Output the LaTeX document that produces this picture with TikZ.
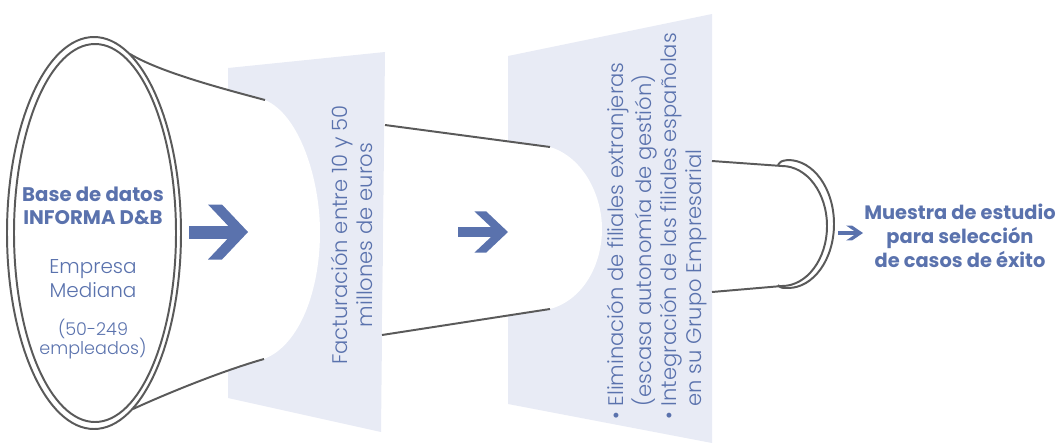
\documentclass[tikz,border=0pt]{standalone}
\usepackage{fontspec}
\setmainfont{Poppins}
\newfontfamily\lightfont{Poppins Light}
\usetikzlibrary{positioning}
\definecolor{azul}{RGB}{90,114,173}
\definecolor{panel}{RGB}{232,235,245}
\definecolor{borde}{RGB}{90,90,90}
\tikzset{
  rim/.style={draw=borde, line width=1.4pt},
  panelfill/.style={fill=panel, draw=none},
  titulo/.style={text=azul, font=\bfseries\fontsize{14}{16.5}\selectfont, align=center, inner sep=0pt},
  ligero/.style={text=azul, font=\lightfont\fontsize{14.2}{17}\selectfont, align=center, inner sep=0pt},
  girado/.style={ligero, font=\lightfont\fontsize{15}{17.8}\selectfont, rotate=90},
  pics/flecha/.style={code={
    \fill[azul] (-59,-6.5) rectangle (-12,6.5);
    \fill[azul] (-40,-27.5) -- (-26,-27.5) -- (0,0) -- (-26,27.5) -- (-40,27.5) -- (-14,0) -- cycle;
  }}
}

\begin{document}
\begin{tikzpicture}[x=0.025cm, y=-0.025cm]
    \useasboundingbox (0,0) rectangle (1060,443);

    \fill[panelfill] (228,68) -- (385,52) -- (381,432) -- (228,398) -- cycle;
    \fill[panelfill] (508,56) -- (712,14) -- (712,443) -- (508,404) -- cycle;

    \fill[white] (130,54) .. controls (160,72) and (220,88) .. (265,100)
      .. controls (300,115) and (320,180) .. (320,232)
      .. controls (320,290) and (300,345) .. (264,359)
      .. controls (225,370) and (170,392) .. (133,409) -- cycle;
    \fill[white] (385,125) -- (550,147) .. controls (583,157) and (602,195) .. (602,229)
      .. controls (602,265) and (583,300) .. (550,309) -- (382,335) -- cycle;

    \draw[rim] (130,54) .. controls (160,72) and (220,88) .. (265,100);
    \draw[rim] (133,409) .. controls (170,392) and (225,370) .. (264,359);
    \draw[rim] (385,125) -- (550,147);
    \draw[rim] (382,335) -- (550,309);
    \draw[rim] (712,161) -- (782,166) arc[start angle=-90, end angle=90, x radius=45, y radius=60] -- (712,292);
    \draw[rim] (778,165) .. controls (781,161) .. (788,160)
      arc[start angle=-90, end angle=90, x radius=46, y radius=64] .. controls (781,288) .. (778,285);

    \draw[rim] (94,233) ellipse [x radius=87, y radius=196];
    \draw[rim] (95,233) ellipse [x radius=81, y radius=189];

    \node[titulo] (base) at (93,206) {Base de datos\\INFORMA D\&B};
    \node[ligero] (empresa) at (93,279) {Empresa\\Mediana};
    \node[ligero, font=\lightfont\fontsize{12.5}{14}\selectfont] (plantilla) at (93,339) {(50-249\\empleados)};
    \node[girado] (facturacion) at (352,235) {Facturación entre 10 y 50\\millones de euros};
    \node[girado, anchor=north west] (filiales) at (606,420) {%
      \begin{tabular}{@{}l@{\hspace{4pt}}l@{}}
        \textbullet & Eliminación de filiales extranjeras\\
        & (escasa autonomía de gestión)\\
        \textbullet & Integración de las filiales españolas\\
        & en su Grupo Empresarial
      \end{tabular}};
    \node[titulo, font=\bfseries\fontsize{13.8}{17}\selectfont] (muestra) at (960,236) {Muestra de estudio\\para selección\\de casos de éxito};

    \pic at (248,232) {flecha};
    \pic[xscale=0.84, yscale=0.75] at (508,232) {flecha};
    \pic[xscale=0.42, yscale=0.27] at (863,233) {flecha};
  \end{tikzpicture}
\end{document}
